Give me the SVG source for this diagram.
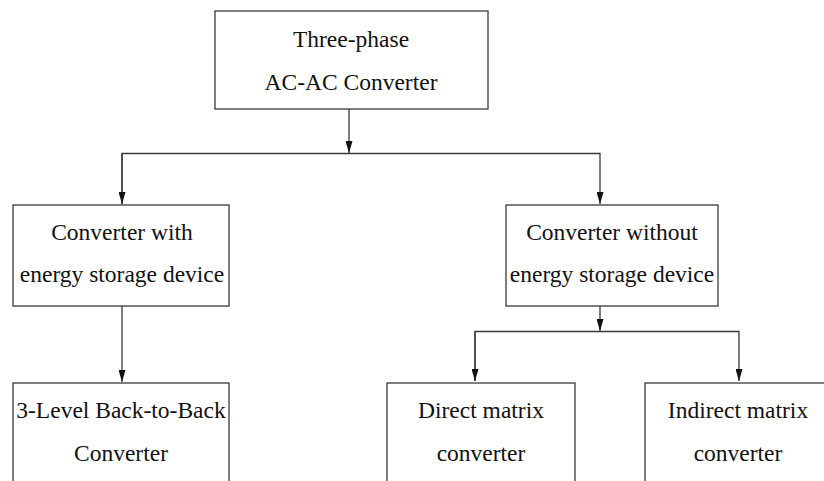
<svg xmlns="http://www.w3.org/2000/svg" width="824" height="481" viewBox="0 0 824 481">
<defs>
<style>
.box{fill:#fff;stroke:#3a3a3a;stroke-width:1.3}
.edge{fill:none;stroke:#3a3a3a;stroke-width:1.3}
text{font-family:"Liberation Serif","Times New Roman",serif;font-size:23.5px;fill:#111;text-anchor:middle}
</style>
<marker id="a" viewBox="0 0 12 7" refX="12" refY="3.5" markerWidth="12" markerHeight="7" markerUnits="userSpaceOnUse" orient="auto">
<path d="M0,0 L12,3.5 L0,7 Z" fill="#111"/>
</marker>
</defs>
<rect width="824" height="481" fill="#fff"/>
<g id="connectors">
<path class="edge" d="M349,109 V153" marker-end="url(#a)"/>
<path class="edge" d="M122,204 V153.5 H600 V204" marker-end="url(#a)"/>
<path class="edge" d="M122,153.5 V204" marker-end="url(#a)"/>
<path class="edge" d="M122,306 V382" marker-end="url(#a)"/>
<path class="edge" d="M600,306 V331" marker-end="url(#a)"/>
<path class="edge" d="M475,381 V331.5 H739 V381" marker-end="url(#a)"/>
<path class="edge" d="M475,331.5 V381" marker-end="url(#a)"/>
</g>
<g id="root">
<rect class="box" x="215" y="11" width="273" height="98"/>
<text x="351" y="47">Three-phase</text>
<text x="351" y="90">AC-AC Converter</text>
</g>
<g id="with-storage">
<rect class="box" x="13" y="205" width="216" height="101"/>
<text x="122" y="240">Converter with</text>
<text x="122" y="282">energy storage device</text>
</g>
<g id="without-storage">
<rect class="box" x="506" y="205" width="212" height="101"/>
<text x="612" y="240">Converter without</text>
<text x="612" y="282">energy storage device</text>
</g>
<g id="back-to-back">
<rect class="box" x="13" y="383" width="216" height="110"/>
<text x="121" y="418">3-Level Back-to-Back</text>
<text x="121" y="461">Converter</text>
</g>
<g id="direct-matrix">
<rect class="box" x="387" y="383" width="188" height="110"/>
<text x="481" y="418">Direct matrix</text>
<text x="481" y="461">converter</text>
</g>
<g id="indirect-matrix">
<rect class="box" x="645" y="383" width="188" height="110"/>
<text x="738" y="418">Indirect matrix</text>
<text x="738" y="461">converter</text>
</g>
</svg>
